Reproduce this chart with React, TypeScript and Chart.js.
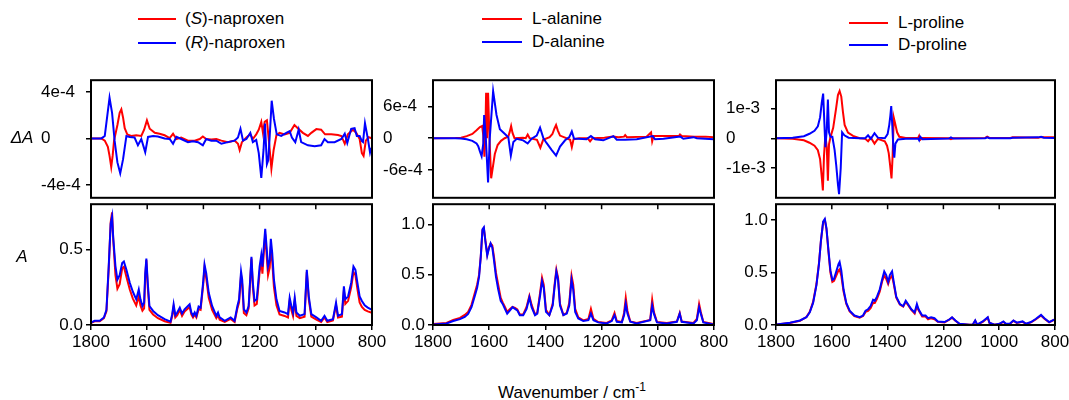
import React, { useEffect, useRef } from 'react';
import { Chart, registerables } from 'chart.js';

Chart.register(...registerables);
Chart.defaults.font.family = "'Liberation Sans', Arial, sans-serif";
Chart.defaults.color = '#000';

// ---------- axis ticks ----------
const xTicks = [1800, 1600, 1400, 1200, 1000, 800];
const naproxenVcdTicks = [-4e-4, 0, 4e-4];
const naproxenVcdTickLabels = ['-4e-4', '0', '4e-4'];
const alanineVcdTicks = [-6e-4, 0, 6e-4];
const alanineVcdTickLabels = ['-6e-4', '0', '6e-4'];
const prolineVcdTicks = [-1e-3, 0, 1e-3];
const prolineVcdTickLabels = ['-1e-3', '0', '1e-3'];
const naproxenIrTicks = [0, 0.5];
const naproxenIrTickLabels = ['0.0', '0.5'];
const aminoIrTicks = [0, 0.5, 1.0];
const aminoIrTickLabels = ['0.0', '0.5', '1.0'];

// ---------- naproxen VCD ----------
const naproxenVcdWnR = [1799, 1763, 1751, 1742, 1734, 1725, 1716, 1706, 1696, 1686, 1674, 1662, 1645, 1633, 1621, 1607, 1597, 1579, 1562, 1538, 1520, 1508, 1496, 1479, 1455, 1437, 1419, 1402, 1390, 1372, 1354, 1336, 1313, 1289, 1277, 1268, 1259, 1247, 1233, 1224, 1212, 1203, 1194, 1186, 1181, 1174, 1169, 1163, 1157, 1149, 1139, 1123, 1105, 1093, 1085, 1073, 1061, 1052, 1028, 1004, 981, 969, 957, 933, 909, 897, 888, 874, 862, 854, 844, 836, 832, 825, 815, 807, 803];
const naproxenVcdR = [0, 0, 0.21e-4, 1.95e-4, 3.5e-4, 2.2e-4, -0.19e-4, -2.06e-4, -3.0e-4, -1.8e-4, 0.21e-4, 0.13e-4, 0.08e-4, -0.59e-4, -0.05e-4, -1.18e-4, 0.13e-4, 0.21e-4, 0.16e-4, 0, -0.05e-4, -0.46e-4, 0.13e-4, -0.05e-4, -0.32e-4, -0.24e-4, -0.32e-4, -0.59e-4, -0.05e-4, -0.19e-4, -0.19e-4, -0.46e-4, -0.32e-4, -0.19e-4, 0.08e-4, 0.83e-4, -0.19e-4, -0.05e-4, 0.48e-4, -0.32e-4, -0.13e-4, -1.26e-4, -3.4e-4, -0.99e-4, 1.28e-4, -2.2e-4, -1.85e-4, 0.62e-4, 3.24e-4, 1.69e-4, 0.35e-4, 0.21e-4, 0.48e-4, 0.62e-4, 0.08e-4, -0.32e-4, 0.75e-4, -0.32e-4, -0.59e-4, -0.67e-4, -0.59e-4, -0.05e-4, -0.32e-4, -0.32e-4, -0.05e-4, 0.4e-4, -0.4e-4, 0.83e-4, 0.88e-4, 0.21e-4, 0.21e-4, -0.24e-4, -0.32e-4, 1.3e-4, 0, -1.2e-4, -0.8e-4];
const naproxenVcdWnS = [1799, 1763, 1751, 1740, 1734, 1728, 1723, 1718, 1706, 1698, 1692, 1686, 1680, 1671, 1657, 1639, 1621, 1611, 1601, 1591, 1573, 1556, 1538, 1520, 1508, 1496, 1479, 1455, 1431, 1413, 1402, 1390, 1372, 1354, 1336, 1313, 1289, 1277, 1271, 1263, 1247, 1233, 1224, 1212, 1203, 1194, 1188, 1182, 1174, 1167, 1158, 1150, 1140, 1129, 1111, 1093, 1076, 1064, 1046, 1028, 1016, 998, 981, 967, 945, 921, 909, 897, 886, 868, 856, 844, 836, 830, 822, 812, 800];
const naproxenVcdS = [0, 0, -0.19e-4, -0.72e-4, -1.5e-4, -2.46e-4, -1.5e-4, -0.19e-4, 1.15e-4, 2.2e-4, 2.5e-4, 1.8e-4, 0.88e-4, 0.35e-4, 0.21e-4, 0.27e-4, 0.21e-4, 0.75e-4, 1.55e-4, 0.83e-4, 0.48e-4, 0.4e-4, 0.27e-4, 0.03e-4, 0.4e-4, -0.05e-4, 0.08e-4, -0.19e-4, -0.19e-4, -0.05e-4, 0.16e-4, -0.05e-4, -0.1e-4, -0.05e-4, -0.19e-4, -0.32e-4, -0.19e-4, -0.46e-4, -0.99e-4, -0.32e-4, 0.08e-4, 0.35e-4, -0.05e-4, 0.35e-4, 0.75e-4, 1.42e-4, 0.48e-4, 1.42e-4, 1.55e-4, -0.19e-4, -2.6e-4, -0.99e-4, 0.29e-4, 0.48e-4, 0.35e-4, 0.48e-4, 1.15e-4, 0.88e-4, 0.48e-4, 0.21e-4, 0.48e-4, 0.8e-4, 0.75e-4, 0.35e-4, 0.35e-4, 0.29e-4, 0.21e-4, -0.46e-4, 0.35e-4, 0.75e-4, 0.48e-4, -0.05e-4, -1.26e-4, -1.5e-4, -0.2e-4, 0.1e-4, 0];

// ---------- naproxen IR ----------
const naproxenIrWn = [1799, 1787, 1769, 1754, 1745, 1737, 1730, 1725, 1721, 1713, 1706, 1698, 1689, 1683, 1674, 1662, 1651, 1639, 1630, 1624, 1617, 1611, 1607, 1603, 1598, 1592, 1579, 1562, 1538, 1517, 1511, 1506, 1500, 1493, 1484, 1476, 1467, 1455, 1449, 1443, 1437, 1431, 1425, 1417, 1410, 1401, 1396, 1390, 1381, 1369, 1354, 1348, 1342, 1324, 1303, 1289, 1279, 1273, 1266, 1262, 1256, 1247, 1239, 1229, 1224, 1218, 1210, 1200, 1194, 1190, 1186, 1180, 1176, 1170, 1164, 1160, 1155, 1149, 1140, 1129, 1111, 1099, 1093, 1087, 1081, 1075, 1069, 1057, 1040, 1032, 1025, 1016, 998, 981, 969, 959, 939, 928, 921, 907, 900, 895, 885, 874, 866, 859, 852, 844, 836, 826, 815, 800];
const naproxenIrR = [0.017, 0.028, 0.028, 0.05, 0.10, 0.39, 0.67, 0.72, 0.58, 0.39, 0.30, 0.33, 0.41, 0.42, 0.365, 0.28, 0.22, 0.17, 0.235, 0.17, 0.126, 0.148, 0.343, 0.44, 0.28, 0.126, 0.093, 0.065, 0.039, 0.022, 0.072, 0.137, 0.065, 0.083, 0.115, 0.076, 0.104, 0.126, 0.137, 0.083, 0.061, 0.083, 0.061, 0.122, 0.115, 0.28, 0.40, 0.343, 0.213, 0.126, 0.061, 0.083, 0.05, 0.028, 0.05, 0.028, 0.126, 0.17, 0.354, 0.30, 0.104, 0.083, 0.126, 0.452, 0.28, 0.159, 0.17, 0.387, 0.463, 0.387, 0.495, 0.637, 0.539, 0.387, 0.43, 0.571, 0.474, 0.30, 0.17, 0.093, 0.083, 0.072, 0.18, 0.126, 0.083, 0.18, 0.083, 0.061, 0.072, 0.365, 0.19, 0.072, 0.05, 0.028, 0.061, 0.028, 0.039, 0.148, 0.061, 0.072, 0.256, 0.17, 0.19, 0.28, 0.387, 0.365, 0.28, 0.19, 0.159, 0.13, 0.115, 0.10];
const naproxenIrS = [0.015, 0.025, 0.025, 0.045, 0.09, 0.37, 0.68, 0.745, 0.57, 0.33, 0.24, 0.27, 0.375, 0.385, 0.32, 0.235, 0.175, 0.13, 0.19, 0.13, 0.095, 0.11, 0.32, 0.43, 0.25, 0.10, 0.07, 0.045, 0.025, 0.015, 0.06, 0.12, 0.05, 0.065, 0.10, 0.06, 0.09, 0.11, 0.12, 0.07, 0.05, 0.07, 0.05, 0.105, 0.10, 0.26, 0.38, 0.31, 0.18, 0.10, 0.045, 0.065, 0.035, 0.02, 0.04, 0.02, 0.11, 0.15, 0.33, 0.27, 0.08, 0.065, 0.11, 0.44, 0.25, 0.13, 0.14, 0.35, 0.43, 0.34, 0.45, 0.60, 0.49, 0.33, 0.38, 0.52, 0.42, 0.25, 0.13, 0.07, 0.06, 0.05, 0.16, 0.10, 0.06, 0.16, 0.06, 0.045, 0.055, 0.35, 0.17, 0.055, 0.035, 0.02, 0.05, 0.02, 0.03, 0.13, 0.05, 0.055, 0.23, 0.14, 0.16, 0.25, 0.35, 0.33, 0.24, 0.15, 0.12, 0.10, 0.09, 0.08];

// ---------- alanine VCD ----------
const alanineVcdWnD = [1800, 1720, 1700, 1680, 1660, 1645, 1639, 1633, 1627, 1621, 1618, 1612, 1604, 1598, 1586, 1574, 1562, 1544, 1532, 1523, 1514, 1502, 1479, 1463, 1449, 1431, 1419, 1407, 1396, 1378, 1362, 1348, 1330, 1315, 1306, 1298, 1283, 1254, 1238, 1223, 1194, 1158, 1146, 1116, 1075, 1018, 1010, 980, 920, 909, 873, 861, 801];
const alanineVcdD = [0, 0, -0.06e-4, -0.2e-4, -0.5e-4, -1.0e-4, -1.5e-4, -2.5e-4, -3.4e-4, -1.0e-4, 4.4e-4, 0, -8.4e-4, 0, 8.9e-4, 4.4e-4, 1.7e-4, 0.8e-4, 0.2e-4, -3.3e-4, -0.7e-4, -0.1e-4, -0.4e-4, -1.0e-4, -0.1e-4, 0.5e-4, 2.0e-4, 0, -0.9e-4, -2.2e-4, -3.3e-4, -1.6e-4, -0.4e-4, 0.2e-4, 1.3e-4, -0.1e-4, -0.1e-4, -0.2e-4, 0.4e-4, -0.2e-4, -0.4e-4, 0.4e-4, -0.3e-4, -0.3e-4, -0.2e-4, 0.4e-4, -0.2e-4, -0.1e-4, 0.3e-4, -0.1e-4, 0.2e-4, 0, -0.2e-4];
const alanineVcdWnL = [1800, 1720, 1700, 1680, 1660, 1645, 1633, 1625, 1621, 1617, 1614, 1611, 1608, 1604, 1599, 1593, 1587, 1580, 1570, 1558, 1545, 1532, 1527, 1522, 1517, 1510, 1480, 1470, 1463, 1456, 1430, 1418, 1408, 1385, 1375, 1368, 1362, 1356, 1348, 1330, 1312, 1306, 1300, 1280, 1250, 1241, 1232, 1190, 1160, 1140, 1120, 1116, 1110, 1040, 1024, 1020, 1015, 980, 925, 921, 915, 870, 830, 800];
const alanineVcdL = [0, 0.05e-4, 0.1e-4, 0.4e-4, 0.8e-4, 1.5e-4, 2.1e-4, 2.3e-4, 0.5e-4, -3.5e-4, 0, 8.6e-4, 0, 8.6e-4, 0, -7.6e-4, -5.5e-4, -3.0e-4, -1.3e-4, -0.5e-4, 0, 0.3e-4, 1.2e-4, 2.3e-4, 1.0e-4, 0, 0.1e-4, 0, 0.7e-4, 0, -0.3e-4, -1.8e-4, -0.3e-4, 0.2e-4, 0.8e-4, 1.8e-4, 2.5e-4, 1.5e-4, 0.5e-4, 0.1e-4, -0.3e-4, -1.7e-4, -0.2e-4, 0, 0, -0.6e-4, 0, 0.1e-4, 0.3e-4, 0.2e-4, 0.3e-4, 0.6e-4, 0.2e-4, 0.3e-4, 1.1e-4, -0.6e-4, 0.4e-4, 0.4e-4, 0.4e-4, 0.7e-4, 0.4e-4, 0.3e-4, 0.3e-4, 0.2e-4];

// ---------- alanine IR ----------
const alanineIrWn = [1800, 1752, 1728, 1704, 1687, 1675, 1663, 1651, 1643, 1636, 1630, 1624, 1619, 1614, 1607, 1601, 1595, 1589, 1583, 1576, 1568, 1559, 1552, 1544, 1536, 1526, 1517, 1508, 1500, 1491, 1479, 1467, 1457, 1449, 1437, 1429, 1419, 1412, 1406, 1398, 1386, 1374, 1367, 1361, 1355, 1348, 1336, 1324, 1315, 1307, 1301, 1294, 1283, 1265, 1247, 1238, 1229, 1212, 1182, 1164, 1154, 1146, 1128, 1120, 1114, 1108, 1098, 1075, 1027, 1020, 1014, 1003, 968, 932, 922, 915, 873, 861, 853, 847, 838, 802];
const alanineIrD = [0.006, 0.016, 0.039, 0.058, 0.08, 0.11, 0.177, 0.29, 0.37, 0.48, 0.68, 0.95, 0.97, 0.84, 0.69, 0.76, 0.81, 0.77, 0.645, 0.48, 0.355, 0.24, 0.21, 0.16, 0.113, 0.145, 0.177, 0.16, 0.145, 0.097, 0.097, 0.16, 0.274, 0.177, 0.097, 0.113, 0.29, 0.435, 0.37, 0.13, 0.097, 0.194, 0.387, 0.53, 0.45, 0.194, 0.097, 0.113, 0.194, 0.45, 0.355, 0.13, 0.065, 0.039, 0.048, 0.113, 0.048, 0.026, 0.016, 0.039, 0.097, 0.032, 0.026, 0.097, 0.21, 0.113, 0.032, 0.016, 0.048, 0.194, 0.113, 0.026, 0.016, 0.032, 0.113, 0.032, 0.016, 0.048, 0.177, 0.113, 0.026, 0.006];
const alanineIrL = [0.01, 0.02, 0.05, 0.07, 0.10, 0.13, 0.20, 0.32, 0.40, 0.50, 0.68, 0.94, 0.96, 0.85, 0.70, 0.77, 0.81, 0.79, 0.68, 0.52, 0.40, 0.27, 0.225, 0.18, 0.13, 0.16, 0.18, 0.17, 0.155, 0.105, 0.105, 0.18, 0.29, 0.20, 0.105, 0.12, 0.32, 0.47, 0.40, 0.15, 0.10, 0.21, 0.41, 0.55, 0.47, 0.21, 0.10, 0.12, 0.22, 0.49, 0.40, 0.16, 0.075, 0.045, 0.06, 0.16, 0.06, 0.03, 0.02, 0.045, 0.12, 0.04, 0.03, 0.12, 0.27, 0.14, 0.035, 0.02, 0.05, 0.25, 0.13, 0.03, 0.02, 0.035, 0.12, 0.035, 0.02, 0.06, 0.21, 0.13, 0.03, 0.01];

// ---------- proline VCD ----------
const prolineVcdWnD = [1800, 1740, 1700, 1680, 1662, 1650, 1642, 1636, 1631, 1627, 1623, 1618, 1614, 1610, 1605, 1598, 1590, 1584, 1578, 1574, 1568, 1563, 1555, 1540, 1500, 1480, 1470, 1460, 1447, 1435, 1410, 1400, 1394, 1390, 1387, 1383, 1379, 1376, 1372, 1363, 1335, 1290, 1287, 1283, 1275, 1180, 1173, 1165, 1050, 1043, 1035, 960, 952, 860, 850, 840, 800];
const prolineVcdD = [0, 0.02e-3, 0.07e-3, 0.15e-3, 0.25e-3, 0.4e-3, 0.7e-3, 1.2e-3, 1.5e-3, 0.6e-3, -0.3e-3, 0.3e-3, 1.3e-3, 0.2e-3, 0.05e-3, 0.05e-3, -0.39e-3, -0.92e-3, -1.55e-3, -1.88e-3, -1.0e-3, 0.2e-3, 0.1e-3, 0.02e-3, 0, 0, 0.1e-3, -0.02e-3, 0.17e-3, 0.02e-3, 0, 0.14e-3, 0.45e-3, 0.77e-3, 1.08e-3, 0.4e-3, -0.39e-3, -0.65e-3, -0.18e-3, -0.04e-3, -0.02e-3, -0.02e-3, -0.07e-3, 0.05e-3, -0.03e-3, -0.01e-3, 0.03e-3, -0.01e-3, 0, 0.03e-3, 0, 0, 0.02e-3, 0.03e-3, 0.05e-3, 0.02e-3, 0.01e-3];
const prolineVcdWnL = [1800, 1740, 1700, 1680, 1662, 1650, 1642, 1636, 1632, 1628, 1623, 1618, 1614, 1610, 1605, 1595, 1585, 1578, 1572, 1566, 1560, 1554, 1542, 1524, 1500, 1480, 1470, 1460, 1447, 1435, 1410, 1402, 1396, 1391, 1386, 1382, 1378, 1373, 1366, 1358, 1335, 1290, 1287, 1283, 1275, 1180, 1173, 1165, 1050, 1043, 1035, 960, 952, 860, 850, 840, 800];
const prolineVcdL = [0, -0.02e-3, -0.07e-3, -0.15e-3, -0.25e-3, -0.4e-3, -0.7e-3, -1.3e-3, -1.75e-3, -0.6e-3, 0.1e-3, -0.3e-3, -1.43e-3, -0.2e-3, 0.03e-3, 0.35e-3, 0.98e-3, 1.45e-3, 1.59e-3, 1.4e-3, 0.88e-3, 0.45e-3, 0.19e-3, 0.08e-3, 0, -0.02e-3, -0.1e-3, 0.02e-3, -0.18e-3, -0.02e-3, -0.1e-3, -0.25e-3, -0.5e-3, -0.9e-3, -1.35e-3, -0.6e-3, 0.7e-3, 0.5e-3, 0.2e-3, 0.05e-3, 0.01e-3, 0.02e-3, 0.08e-3, -0.05e-3, 0.01e-3, 0, -0.03e-3, 0, 0.01e-3, 0.05e-3, 0.01e-3, 0.01e-3, 0.03e-3, 0.02e-3, 0.04e-3, 0.03e-3, 0.03e-3];

// ---------- proline IR ----------
const prolineIrWn = [1798, 1750, 1714, 1691, 1679, 1667, 1655, 1646, 1639, 1631, 1625, 1619, 1612, 1605, 1598, 1592, 1584, 1576, 1572, 1566, 1558, 1548, 1536, 1519, 1500, 1488, 1479, 1470, 1461, 1452, 1446, 1438, 1428, 1419, 1412, 1405, 1398, 1392, 1384, 1378, 1369, 1356, 1344, 1335, 1327, 1315, 1303, 1295, 1289, 1276, 1264, 1255, 1244, 1232, 1220, 1196, 1179, 1169, 1157, 1142, 1107, 1095, 1086, 1079, 1059, 1041, 1035, 1017, 999, 985, 976, 962, 949, 937, 916, 904, 886, 868, 850, 838, 821, 803];
const prolineIrD = [0.006, 0.022, 0.043, 0.074, 0.12, 0.21, 0.38, 0.58, 0.80, 0.985, 1.01, 0.92, 0.71, 0.52, 0.43, 0.44, 0.51, 0.58, 0.60, 0.52, 0.34, 0.21, 0.136, 0.09, 0.074, 0.09, 0.136, 0.15, 0.18, 0.24, 0.23, 0.27, 0.34, 0.44, 0.51, 0.475, 0.41, 0.475, 0.51, 0.41, 0.27, 0.20, 0.18, 0.23, 0.20, 0.15, 0.12, 0.20, 0.15, 0.09, 0.09, 0.065, 0.074, 0.065, 0.034, 0.028, 0.052, 0.074, 0.043, 0.012, 0.003, 0.003, 0.043, 0.003, 0.034, 0.074, 0.022, 0.003, 0.012, 0.034, 0.012, 0.012, 0.043, 0.022, 0.034, 0.012, 0.028, 0.059, 0.096, 0.065, 0.028, 0.052];
const prolineIrL = [0.005, 0.02, 0.04, 0.075, 0.125, 0.22, 0.39, 0.59, 0.80, 0.98, 1.0, 0.91, 0.70, 0.50, 0.41, 0.42, 0.47, 0.52, 0.53, 0.47, 0.32, 0.20, 0.13, 0.085, 0.07, 0.085, 0.125, 0.135, 0.16, 0.21, 0.21, 0.25, 0.32, 0.42, 0.47, 0.44, 0.39, 0.44, 0.47, 0.39, 0.26, 0.195, 0.175, 0.22, 0.19, 0.145, 0.11, 0.18, 0.14, 0.08, 0.08, 0.055, 0.065, 0.055, 0.03, 0.025, 0.05, 0.07, 0.04, 0.01, 0.003, 0.003, 0.04, 0.003, 0.03, 0.07, 0.02, 0.003, 0.01, 0.03, 0.01, 0.01, 0.04, 0.02, 0.03, 0.01, 0.025, 0.055, 0.09, 0.06, 0.025, 0.05];

// ---------- helpers ----------
const RED = '#ff0000';
const BLUE = '#0000ff';
const FONT_SIZE = 17;
const AXIS_W = 50;
const PAD_R = 20;
const PAD_T = 10;
const PAD_B = 10;
const XAXIS_H = 30;

const zip = (xs: number[], ys: number[]) => xs.map((x, i) => ({ x, y: ys[i] }));

const boxPlugin = {
  id: 'box',
  afterDatasetsDraw(chart: any, _args: any, opts: any) {
    const { ctx, chartArea: a } = chart;
    ctx.save();
    ctx.strokeStyle = '#000';
    ctx.lineWidth = 2;
    ctx.strokeRect(a.left, a.top, a.right - a.left, a.bottom - a.top);
    if (opts && opts.innerTopTicks) {
      const xs = chart.scales.x;
      ctx.lineWidth = 1.5;
      for (const t of xs.ticks) {
        const px = xs.getPixelForValue(t.value);
        ctx.beginPath();
        ctx.moveTo(px, a.top);
        ctx.lineTo(px, a.top + 5);
        ctx.stroke();
      }
    }
    ctx.restore();
  },
};

type Series = { wn: number[]; v: number[]; color: string };
type Panel = {
  series: Series[]; // first is drawn on top
  yMin: number;
  yMax: number;
  yTicks: number[];
  yLabels: string[];
  bottom: boolean;
};

function makeConfig(p: Panel): any {
  return {
    type: 'line',
    data: {
      datasets: p.series.map((s) => ({
        data: zip(s.wn, s.v),
        borderColor: s.color,
        backgroundColor: s.color,
        borderWidth: 2,
        pointRadius: 0,
        tension: 0,
        fill: false,
      })),
    },
    plugins: [boxPlugin],
    options: {
      animation: false,
      responsive: false,
      events: [],
      layout: { padding: { left: 0, right: PAD_R, top: PAD_T, bottom: p.bottom ? 5 : PAD_B } },
      plugins: {
        legend: { display: false },
        tooltip: { enabled: false },
        box: { innerTopTicks: p.bottom },
      },
      scales: {
        x: {
          type: 'linear',
          min: 800,
          max: 1800,
          reverse: true,
          display: p.bottom,
          afterBuildTicks: (s: any) => {
            s.ticks = xTicks.map((v) => ({ value: v }));
          },
          afterFit: (s: any) => {
            s.height = p.bottom ? XAXIS_H : 0;
          },
          ticks: {
            autoSkip: false,
            maxRotation: 0,
            padding: 2,
            color: '#000',
            font: { size: FONT_SIZE },
            callback: (v: number) => String(v),
          },
          grid: { drawOnChartArea: false, drawTicks: true, tickLength: 5, color: '#000', lineWidth: 1.5 },
          border: { display: false },
        },
        y: {
          type: 'linear',
          min: p.yMin,
          max: p.yMax,
          afterBuildTicks: (s: any) => {
            s.ticks = p.yTicks.map((v) => ({ value: v }));
          },
          afterFit: (s: any) => {
            s.width = AXIS_W;
          },
          ticks: {
            crossAlign: p.bottom ? 'near' : 'far',
            padding: 3,
            color: '#000',
            font: { size: FONT_SIZE },
            callback: (v: number) => {
              const i = p.yTicks.indexOf(v);
              return i >= 0 ? p.yLabels[i] : '';
            },
          },
          grid: { drawOnChartArea: false, drawTicks: true, tickLength: 5, color: '#000', lineWidth: 1.5 },
          border: { display: false },
        },
      },
    },
  };
}

const PLOT_TOP = 77;
const PLOT_MID = 201;
const PLOT_BOT = 325;

function PanelChart({ panel, left, right }: { panel: Panel; left: number; right: number }) {
  const ref = useRef<HTMLCanvasElement>(null);
  const plotTop = panel.bottom ? PLOT_MID : PLOT_TOP;
  const plotBottom = panel.bottom ? PLOT_BOT : PLOT_MID;
  const width = AXIS_W + (right - left) + PAD_R;
  const height = PAD_T + (plotBottom - plotTop) + (panel.bottom ? XAXIS_H + 5 : PAD_B);
  useEffect(() => {
    const chart = new Chart(ref.current as HTMLCanvasElement, makeConfig(panel));
    return () => chart.destroy();
  }, []);
  return (
    <canvas
      ref={ref}
      width={width}
      height={height}
      style={{ position: 'absolute', left: left - AXIS_W, top: plotTop - PAD_T, width, height }}
    />
  );
}

function LegendRow({ x1, x2, tx, y, color, children }: any) {
  return (
    <>
      <div style={{ position: 'absolute', left: x1, top: y - 1, width: x2 - x1, height: 2, background: color }} />
      <div
        style={{
          position: 'absolute',
          left: tx,
          top: y - 10,
          lineHeight: '20px',
          fontSize: FONT_SIZE,
          fontFamily: "'Liberation Sans', Arial, sans-serif",
          whiteSpace: 'nowrap',
          color: '#000',
        }}
      >
        {children}
      </div>
    </>
  );
}

const panels: { top: Panel; bot: Panel; left: number; right: number }[] = [
  {
    left: 91,
    right: 372,
    top: {
      series: [
        { wn: naproxenVcdWnR, v: naproxenVcdR, color: BLUE },
        { wn: naproxenVcdWnS, v: naproxenVcdS, color: RED },
      ],
      yMin: -5.1e-4,
      yMax: 5.0e-4,
      yTicks: naproxenVcdTicks,
      yLabels: naproxenVcdTickLabels,
      bottom: false,
    },
    bot: {
      series: [
        { wn: naproxenIrWn, v: naproxenIrR, color: BLUE },
        { wn: naproxenIrWn, v: naproxenIrS, color: RED },
      ],
      yMin: 0,
      yMax: 0.8,
      yTicks: naproxenIrTicks,
      yLabels: naproxenIrTickLabels,
      bottom: true,
    },
  },
  {
    left: 433,
    right: 714,
    top: {
      series: [
        { wn: alanineVcdWnD, v: alanineVcdD, color: BLUE },
        { wn: alanineVcdWnL, v: alanineVcdL, color: RED },
      ],
      yMin: -1.13e-3,
      yMax: 1.1e-3,
      yTicks: alanineVcdTicks,
      yLabels: alanineVcdTickLabels,
      bottom: false,
    },
    bot: {
      series: [
        { wn: alanineIrWn, v: alanineIrD, color: BLUE },
        { wn: alanineIrWn, v: alanineIrL, color: RED },
      ],
      yMin: 0,
      yMax: 1.2,
      yTicks: aminoIrTicks,
      yLabels: aminoIrTickLabels,
      bottom: true,
    },
  },
  {
    left: 776,
    right: 1055,
    top: {
      series: [
        { wn: prolineVcdWnD, v: prolineVcdD, color: BLUE },
        { wn: prolineVcdWnL, v: prolineVcdL, color: RED },
      ],
      yMin: -2.0e-3,
      yMax: 1.95e-3,
      yTicks: prolineVcdTicks,
      yLabels: prolineVcdTickLabels,
      bottom: false,
    },
    bot: {
      series: [
        { wn: prolineIrWn, v: prolineIrD, color: BLUE },
        { wn: prolineIrWn, v: prolineIrL, color: RED },
      ],
      yMin: 0,
      yMax: 1.15,
      yTicks: aminoIrTicks,
      yLabels: aminoIrTickLabels,
      bottom: true,
    },
  },
];

const textStyle: any = {
  position: 'absolute',
  fontFamily: "'Liberation Sans', Arial, sans-serif",
  fontSize: FONT_SIZE,
  lineHeight: '20px',
  color: '#000',
  whiteSpace: 'nowrap',
};

export default function App() {
  return (
    <div style={{ position: 'absolute', left: 0, top: 0, width: 1069, height: 400, background: '#fff', overflow: 'hidden' }}>
      {panels.map((p, i) => (
        <React.Fragment key={i}>
          <PanelChart panel={p.top} left={p.left} right={p.right} />
          <PanelChart panel={p.bot} left={p.left} right={p.right} />
        </React.Fragment>
      ))}

      <LegendRow x1={138} x2={176} tx={185} y={19} color={RED}>
        (<i>S</i>)-naproxen
      </LegendRow>
      <LegendRow x1={138} x2={176} tx={185} y={43} color={BLUE}>
        (<i>R</i>)-naproxen
      </LegendRow>
      <LegendRow x1={482} x2={522} tx={532} y={19} color={RED}>
        L-alanine
      </LegendRow>
      <LegendRow x1={482} x2={522} tx={532} y={42} color={BLUE}>
        D-alanine
      </LegendRow>
      <LegendRow x1={849} x2={888} tx={898} y={23} color={RED}>
        L-proline
      </LegendRow>
      <LegendRow x1={849} x2={888} tx={898} y={45} color={BLUE}>
        D-proline
      </LegendRow>

      <div style={{ ...textStyle, left: 2, top: 128, width: 40, textAlign: 'center', fontStyle: 'italic' }}>ΔA</div>
      <div style={{ ...textStyle, left: 2, top: 247, width: 40, textAlign: 'center', fontStyle: 'italic' }}>A</div>
      <div style={{ ...textStyle, left: 472, top: 383, width: 200, textAlign: 'center' }}>
        Wavenumber / cm<sup style={{ fontSize: 12, lineHeight: 0, verticalAlign: 'super' }}>-1</sup>
      </div>
    </div>
  );
}
